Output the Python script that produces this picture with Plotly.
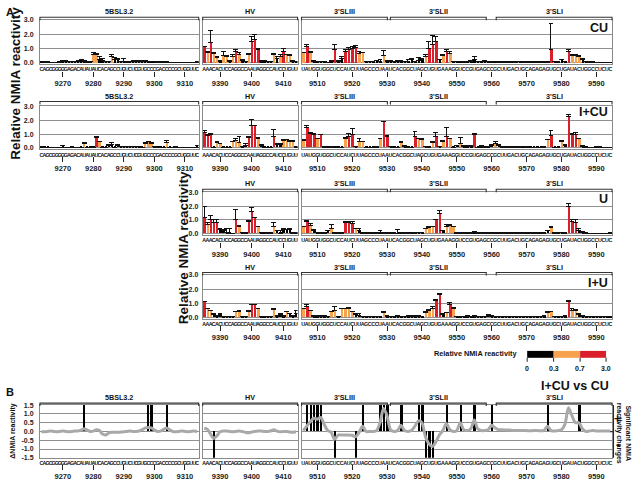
import plotly.graph_objects as go

W, H = 640, 483
FONT = "Liberation Sans, Arial, sans-serif"
NARROW = "Liberation Sans Narrow, Liberation Sans, Arial, sans-serif"

# ---------------- sequences / positions ----------------
seq_5bsl = "CAGCGGGGGAGACAUAUAUCACAGCCUGUCUCGUGCCCGACCCCGCUGGUUC"
seq_hv = "AAACACUCCAGGCCAAUAGGCCAUCCUGUU"
seq_3p = "UAUGGUGGCUCCAUCUUAGCCCUAAUCACGGCUAGCUGUGAAAGGUCCGUGAGCCGCUUGACUGCAGAGAGUGCUGAUACUGGCCUCUC"
start_5bsl, start_hv, start_3p = 9263, 9385, 9506
ticks_5bsl = [9270, 9280, 9290, 9300, 9310]
ticks_hv = [9390, 9400, 9410]
ticks_3p = [9510, 9520, 9530, 9540, 9550, 9560, 9570, 9580, 9590]

# ---------------- CU ----------------
cu_5bsl = [0.05, 0.04, 0.03, 0.02, 0.02, 0.02, 0.03, 0.08, 0.08, 0.06,
           0.05, 0.06, 0.08, 0.12, 0.08, 0.03, 0.05, 0.60, 0.55, 0.25,
           0.15, 0.05, 0.05, 0.45, 0.25, 0.20, 0.05, 0.05, 0.04, 0.05,
           0.08, 0.10, 0.10, 0.08, 0.08, 0.06, 0.05, 0.05, 0.04, 0.04,
           0.03, 0.03, 0.02, 0.02, 0.02, 0.02, 0.02, 0.02, 0.02, 0.02,
           0.02, 0.03]
cu_5bsl_hi = [0.08, 0.06, 0.05, 0.03, 0.03, 0.03, 0.05, 0.12, 0.12, 0.10,
              0.08, 0.10, 0.14, 0.20, 0.12, 0.05, 0.08, 0.72, 0.62, 0.40,
              0.30, 0.08, 0.08, 0.55, 0.35, 0.28, 0.10, 0.28, 0.08, 0.10,
              0.12, 0.14, 0.14, 0.12, 0.12, 0.10, 0.08, 0.08, 0.06, 0.06,
              0.05, 0.05, 0.04, 0.03, 0.03, 0.03, 0.03, 0.03, 0.03, 0.03,
              0.03, 0.05]
cu_hv = [1.10, 0.68, 1.40, 0.65, 0.35, 0.10, 0.50, 0.40, 0.10, 0.45,
         0.75, 0.55, 0.15, 0.05, 0.60, 1.50, 1.60, 0.90, 0.10, 0.10,
         0.08, 0.05, 0.60, 0.28, 0.45, 0.75, 0.55, 0.50, 0.10, 0.05]
cu_hv_hi = [1.15, 0.75, 2.25, 0.70, 0.40, 0.12, 0.75, 0.50, 0.12, 0.55,
            0.90, 0.70, 0.20, 0.08, 0.65, 1.80, 2.00, 1.00, 0.12, 0.12,
            0.10, 0.08, 0.62, 0.40, 0.60, 1.00, 0.60, 0.60, 0.12, 0.08]
cu_3p = [0.68, 1.10, 0.68, 0.10, 0.05, 0.05, 0.05, 0.02, 0.10, 0.90,
         0.10, 0.28, 0.80, 0.95, 1.00, 1.05, 0.65, 0.68, 0.05, 0.05,
         0.05, 0.15, 0.10, 0.50, 0.10, 0.08, 0.05, 0.10, 0.10, 0.05,
         0.10, 0.20, 0.05, 0.15, 0.25, 0.45, 1.00, 1.30, 1.45, 0.20,
         0.50, 0.80, 0.65, 0.05, 0.05, 0.05, 0.04, 0.05, 0.10, 0.20,
         0.05, 0.05, 0.08, 0.05, 0.04, 0.05, 0.04, 0.03, 0.03, 0.03,
         0.03, 0.04, 0.05, 0.04, 0.03, 0.03, 0.04, 0.03, 0.03, 0.03,
         0.03, 0.95, 0.05, 0.04, 0.20, 0.05, 0.80, 0.50, 0.50, 0.45,
         0.20, 0.05, 0.03, 0.03, 0.02, 0.02, 0.02, 0.02, 0.02]
cu_3p_hi = [0.70, 1.25, 0.75, 0.12, 0.10, 0.08, 0.08, 0.04, 0.15, 1.30,
            0.12, 0.40, 0.95, 1.05, 1.15, 1.20, 0.80, 0.70, 0.08, 0.08,
            0.08, 0.18, 0.20, 0.85, 0.12, 0.12, 0.10, 0.15, 0.15, 0.10,
            0.20, 0.30, 0.08, 0.35, 0.30, 0.60, 1.45, 1.90, 1.85, 0.25,
            0.55, 0.95, 0.75, 0.08, 0.08, 0.08, 0.06, 0.08, 0.15, 0.45,
            0.08, 0.08, 0.12, 0.08, 0.06, 0.08, 0.06, 0.05, 0.05, 0.05,
            0.05, 0.06, 0.08, 0.06, 0.05, 0.05, 0.06, 0.05, 0.05, 0.05,
            0.05, 2.75, 0.08, 0.06, 0.25, 0.08, 0.95, 0.55, 0.55, 0.50,
            0.30, 0.08, 0.05, 0.05, 0.03, 0.03, 0.03, 0.03, 0.03]

# ---------------- I+CU ----------------
icu_5bsl = [0.10, 0.05, 0.04, 0.03, 0.03, 0.03, 0.03, 0.05, 0.03, 0.03,
            0.05, 0.03, 0.03, 0.05, 0.32, 0.05, 0.05, 0.05, 0.75, 0.45,
            0.05, 0.05, 0.20, 0.25, 0.05, 0.15, 0.10, 0.10, 0.10, 0.10,
            0.10, 0.10, 0.10, 0.05, 0.35, 0.45, 0.35, 0.10, 0.05, 0.05,
            0.05, 0.40, 0.05, 0.03, 0.05, 0.02, 0.02, 0.02, 0.02, 0.02,
            0.02, 0.05]
icu_5bsl_hi = [0.12, 0.07, 0.06, 0.05, 0.05, 0.05, 0.05, 0.19, 0.05, 0.05,
               0.10, 0.05, 0.05, 0.07, 0.38, 0.07, 0.07, 0.07, 0.82, 0.47,
               0.07, 0.07, 0.22, 0.42, 0.07, 0.25, 0.12, 0.12, 0.12, 0.12,
               0.12, 0.12, 0.12, 0.07, 0.40, 0.47, 0.37, 0.12, 0.07, 0.07,
               0.07, 0.52, 0.07, 0.05, 0.10, 0.03, 0.03, 0.03, 0.03, 0.03,
               0.03, 0.15]
icu_hv = [1.10, 0.90, 0.95, 0.05, 0.40, 0.32, 0.05, 0.05, 0.05, 0.45,
          0.55, 0.40, 0.10, 0.20, 0.75, 1.60, 1.60, 0.68, 0.20, 0.05,
          0.05, 0.05, 0.80, 0.28, 0.28, 0.55, 0.60, 0.50, 0.50, 0.05]
icu_hv_hi = [1.30, 1.00, 1.05, 0.07, 0.45, 0.34, 0.07, 0.07, 0.07, 0.50,
             0.65, 0.80, 0.12, 0.35, 0.85, 2.05, 1.62, 0.75, 0.22, 0.07,
             0.07, 0.07, 1.35, 0.33, 0.33, 0.60, 0.62, 0.55, 0.52, 0.08]
icu_3p = [0.55, 1.45, 1.05, 1.00, 0.65, 0.95, 0.05, 0.05, 0.05, 0.10,
          0.05, 0.05, 0.65, 0.80, 1.00, 0.10, 0.50, 0.45, 0.05, 0.05,
          0.05, 0.05, 0.65, 1.90, 0.85, 0.10, 0.05, 0.05, 0.40, 0.10,
          0.05, 0.05, 0.80, 0.65, 0.60, 0.10, 0.05, 0.40, 0.80, 0.10,
          0.50, 0.80, 0.65, 0.05, 0.15, 0.35, 0.10, 0.10, 0.10, 1.00,
          0.05, 0.10, 0.05, 0.10, 0.20, 0.35, 0.20, 0.05, 0.05, 0.05,
          0.05, 0.05, 0.05, 0.08, 0.05, 0.05, 0.05, 0.05, 0.05, 0.05,
          0.60, 0.90, 0.05, 0.05, 0.50, 0.20, 2.30, 1.00, 0.95, 0.65,
          0.10, 0.05, 0.03, 0.03, 0.05, 0.05, 0.03, 0.03, 0.03]
icu_3p_hi = [0.60, 1.60, 1.10, 1.02, 0.72, 1.00, 0.10, 0.07, 0.10, 0.12,
             0.07, 0.07, 0.75, 1.05, 1.40, 0.12, 0.70, 0.50, 0.07, 0.07,
             0.07, 0.10, 0.70, 1.95, 0.87, 0.12, 0.07, 0.07, 0.45, 0.20,
             0.07, 0.07, 1.20, 0.67, 0.65, 0.12, 0.07, 0.50, 1.15, 0.12,
             0.52, 1.50, 0.70, 0.07, 0.20, 0.75, 0.15, 0.15, 0.15, 1.05,
             0.07, 0.20, 0.07, 0.12, 0.25, 0.50, 0.22, 0.10, 0.08, 0.10,
             0.08, 0.08, 0.10, 0.10, 0.08, 0.07, 0.07, 0.07, 0.07, 0.10,
             0.62, 1.30, 0.07, 0.07, 0.55, 0.22, 2.40, 1.05, 1.10, 0.70,
             0.20, 0.07, 0.05, 0.05, 0.08, 0.08, 0.05, 0.05, 0.05]

# ---------------- U ----------------
u_hv = [1.20, 0.65, 1.00, 0.80, 0.80, 0.28, 0.25, 0.10, 0.05, 0.02,
        1.00, 0.50, 0.10, 0.05, 0.90, 1.60, 1.15, 0.50, 0.10, 0.10,
        0.05, 0.05, 0.50, 0.20, 0.05, 0.28, 0.28, 0.28, 0.05, 0.05]
u_hv_hi = [2.00, 0.80, 1.30, 1.00, 1.05, 0.40, 0.30, 0.35, 0.35, 0.04,
           1.75, 0.60, 0.12, 0.07, 0.95, 1.90, 1.20, 0.55, 0.12, 0.12,
           0.07, 0.07, 0.80, 0.22, 0.20, 0.35, 0.30, 0.35, 0.07, 0.07]
u_3p = [0.50, 0.85, 0.60, 0.25, 0.10, 0.05, 0.05, 0.20, 0.40, 0.05,
        0.05, 0.05, 0.80, 0.80, 0.75, 0.35, 0.20, 0.05, 0.05, 0.05,
        0.05, 0.05, 0.10, 0.05, 0.05, 0.05, 0.05, 0.05, 0.05, 0.05,
        0.05, 0.05, 0.05, 0.10, 0.10, 0.35, 0.45, 0.50, 1.00, 1.45,
        0.20, 0.55, 0.60, 0.50, 0.05, 0.05, 0.05, 0.05, 0.05, 0.10,
        0.05, 0.05, 0.05, 0.05, 0.05, 0.05, 0.05, 0.05, 0.05, 0.05,
        0.05, 0.05, 0.05, 0.05, 0.05, 0.05, 0.05, 0.05, 0.05, 0.05,
        0.20, 0.45, 0.05, 0.05, 0.10, 0.05, 2.00, 0.90, 0.80, 0.25,
        0.10, 0.05, 0.03, 0.03, 0.03, 0.03, 0.03, 0.03, 0.05]
u_3p_hi = [0.55, 0.95, 0.75, 0.30, 0.12, 0.07, 0.07, 0.25, 0.65, 0.07,
           0.07, 0.07, 0.85, 0.85, 0.85, 0.40, 0.40, 0.07, 0.07, 0.07,
           0.07, 0.07, 0.25, 0.07, 0.07, 0.07, 0.07, 0.30, 0.07, 0.07,
           0.07, 0.07, 0.07, 0.12, 0.12, 0.37, 0.50, 0.55, 1.05, 1.70,
           0.22, 0.65, 0.70, 0.52, 0.07, 0.07, 0.07, 0.07, 0.07, 0.15,
           0.07, 0.07, 0.07, 0.08, 0.10, 0.08, 0.07, 0.07, 0.07, 0.07,
           0.07, 0.08, 0.07, 0.07, 0.07, 0.08, 0.07, 0.07, 0.07, 0.07,
           0.22, 0.55, 0.07, 0.07, 0.10, 0.07, 2.15, 1.00, 1.00, 0.40,
           0.15, 0.10, 0.05, 0.05, 0.05, 0.05, 0.05, 0.05, 0.10]

# ---------------- I+U ----------------
iu_hv = [1.10, 0.60, 0.50, 0.20, 0.10, 0.20, 0.05, 0.05, 0.05, 0.05,
         0.40, 0.40, 0.05, 0.05, 0.45, 0.90, 0.90, 0.60, 0.05, 0.05,
         0.05, 0.05, 0.55, 0.10, 0.20, 0.10, 0.40, 0.25, 0.10, 0.25]
iu_hv_hi = [1.15, 0.65, 0.52, 0.30, 0.12, 0.25, 0.07, 0.07, 0.07, 0.07,
            0.45, 0.50, 0.07, 0.07, 0.50, 0.95, 0.95, 0.65, 0.07, 0.07,
            0.07, 0.07, 0.60, 0.12, 0.25, 0.12, 0.45, 0.30, 0.12, 0.50]
iu_3p = [0.60, 0.80, 0.50, 0.10, 0.10, 0.10, 0.10, 0.05, 0.40, 0.50,
         0.05, 0.60, 0.60, 0.65, 0.40, 0.20, 0.15, 0.05, 0.05, 0.05,
         0.05, 0.05, 0.05, 0.35, 0.10, 0.05, 0.05, 0.10, 0.05, 0.05,
         0.10, 0.10, 0.10, 0.10, 0.05, 0.35, 0.50, 0.60, 1.20, 1.60,
         0.20, 0.35, 0.90, 0.65, 0.05, 0.05, 0.05, 0.10, 0.05, 0.10,
         0.05, 0.05, 0.05, 0.15, 0.10, 0.05, 0.05, 0.05, 0.05, 0.05,
         0.05, 0.05, 0.05, 0.05, 0.05, 0.05, 0.05, 0.05, 0.05, 0.10,
         0.35, 0.40, 0.05, 0.05, 0.05, 0.10, 1.10, 0.50, 0.50, 0.20,
         0.10, 0.05, 0.05, 0.05, 0.05, 0.05, 0.05, 0.05, 0.05]
iu_3p_hi = [0.65, 0.90, 0.52, 0.12, 0.15, 0.15, 0.15, 0.07, 0.45, 0.80,
            0.07, 0.65, 0.65, 0.70, 0.45, 0.30, 0.25, 0.07, 0.07, 0.07,
            0.07, 0.07, 0.07, 0.45, 0.12, 0.07, 0.07, 0.12, 0.07, 0.07,
            0.15, 0.15, 0.15, 0.15, 0.07, 0.40, 0.55, 0.80, 1.30, 1.70,
            0.25, 0.37, 1.05, 0.70, 0.07, 0.07, 0.07, 0.12, 0.07, 0.15,
            0.07, 0.07, 0.07, 0.20, 0.12, 0.07, 0.07, 0.07, 0.07, 0.07,
            0.07, 0.07, 0.07, 0.07, 0.07, 0.07, 0.07, 0.07, 0.07, 0.12,
            0.45, 0.45, 0.07, 0.07, 0.07, 0.15, 1.20, 0.65, 0.55, 0.25,
            0.12, 0.07, 0.07, 0.07, 0.07, 0.07, 0.07, 0.07, 0.10]

# ---------------- B: I+CU vs CU ----------------
delta_5bsl = [0.00, -0.02, 0.00, 0.02, 0.00, -0.02, 0.00, 0.02, 0.00, -0.02,
              0.00, 0.02, 0.03, 0.08, 0.15, 0.08, 0.00, 0.02, 0.10, 0.05,
              -0.15, -0.20, -0.10, -0.05, -0.05, -0.05, -0.03, -0.02, 0.00, 0.02,
              0.00, 0.00, 0.03, 0.10, 0.20, 0.22, 0.20, 0.08, 0.00, 0.02,
              0.12, 0.20, 0.10, 0.00, -0.02, 0.00, 0.02, 0.00, -0.02, 0.00,
              0.02, 0.00]
delta_hv = [0.18, 0.12, -0.15, -0.40, -0.25, -0.02, 0.03, 0.02, 0.00, -0.02,
            0.00, 0.02, 0.00, -0.05, -0.08, -0.03, 0.00, 0.02, 0.03, 0.00,
            0.00, 0.03, 0.10, 0.02, -0.02, 0.00, 0.00, -0.03, -0.05, -0.02]
delta_3p = [0.05, 0.30, 0.55, 0.75, 0.70, 0.80, 0.40, 0.05, -0.05, -0.45,
            -0.20, -0.20, -0.20, -0.20, -0.22, -0.30, -0.05, 0.30, 0.00, 0.00,
            0.00, 0.05, 0.50, 1.30, 0.90, 0.10, 0.00, 0.05, 0.35, 0.05,
            0.00, 0.05, 0.30, 0.60, 0.50, -0.30, -0.70, -0.85, -0.60, -0.20,
            0.05, 0.45, 0.10, 0.00, 0.05, 0.50, 0.10, 0.05, 0.15, 0.65,
            0.15, 0.05, 0.05, 0.10, 0.35, 0.20, 0.10, 0.10, 0.08, 0.08,
            0.06, 0.05, 0.05, 0.06, 0.05, 0.04, 0.05, 0.05, 0.04, 0.06,
            0.30, 0.05, 0.02, 0.05, 0.10, 0.40, 1.35, 0.90, 0.50, 0.50,
            0.15, 0.00, 0.03, 0.05, 0.03, 0.02, 0.03, 0.02, 0.02]
sig_up_5bsl = [9277, 9298, 9299, 9304]
sig_down_5bsl = []
sig_up_hv = []
sig_down_hv = [9388]
sig_up_3p = [9507, 9508, 9509, 9510, 9511, 9523, 9528, 9529, 9530, 9534,
             9539, 9540, 9547, 9551, 9555, 9560, 9576, 9585]
sig_down_3p = [9515, 9521, 9541, 9542, 9543]
SIG_LEVEL = 1.5

legend_edges = [0, 0.3, 0.7, 3.0]

# ---------------- styling ----------------
BLACK, ORANGE, RED = "#000000", "#F7A24F", "#DA1F2B"
FRAME = "#8a8a8a"
GRID = "#909090"

def color_for(v):
    if v < legend_edges[1]:
        return BLACK
    if v < legend_edges[2]:
        return ORANGE
    return RED

def xp(px):
    return px / W

def yp(py):
    return 1 - py / H

fig = go.Figure()
layout = {}
shapes = []
annotations = []
counter = [0]

def new_id():
    counter[0] += 1
    return counter[0]

def axref(k, letter):
    return letter if k == 1 else f"{letter}{k}"

def base_axes(i, x0, x1, ytop, ybot, start, n, seq, yr, ytv, yttext, show_y, standoff):
    layout[f"xaxis{i}"] = dict(
        domain=[xp(x0), xp(x1)], anchor=axref(i, "y"),
        range=[start - 0.5, start + n - 0.5],
        tickmode="array", tickvals=[start + k for k in range(n)],
        ticktext=[seq[k] if k < len(seq) else "" for k in range(n)],
        tickangle=0, ticks="",
        tickfont=dict(family=NARROW, size=5.3, color="#111", weight="bold"),
        showline=True, mirror=True, linecolor=FRAME, linewidth=1,
        showgrid=False, zeroline=False, fixedrange=True,
    )
    layout[f"yaxis{i}"] = dict(
        domain=[yp(ybot), yp(ytop)], anchor=axref(i, "x"), range=yr,
        tickmode="array", tickvals=ytv, ticktext=yttext,
        showticklabels=show_y, ticks="", ticklabelstandoff=standoff,
        tickfont=dict(family=FONT, size=7, color="#222", weight="bold"),
        showgrid=True, gridcolor=GRID, gridwidth=1, zeroline=False,
        showline=True, mirror=True, linecolor=FRAME, linewidth=1, fixedrange=True,
    )

def number_axis(i, start, n, ticks, num_pos):
    j = new_id()
    layout[f"xaxis{j}"] = dict(
        overlaying=axref(i, "x"), anchor="free", position=yp(num_pos), side="bottom",
        range=[start - 0.5, start + n - 0.5], tickmode="array", tickvals=ticks,
        ticktext=[str(t) for t in ticks], ticks="outside", ticklen=5, tickwidth=1,
        tickcolor="#222", showline=False, showgrid=False, zeroline=False,
        tickfont=dict(family=FONT, size=7.5, color="#222", weight="bold"), fixedrange=True,
    )
    fig.add_trace(go.Scatter(x=ticks, y=[None] * len(ticks), mode="markers",
                             xaxis=axref(j, "x"), yaxis=axref(i, "y"),
                             showlegend=False, hoverinfo="skip"))

def bar_panel(x0, x1, ytop, ybot, start, vals, hi, seq, ticks, num_pos, show_y, standoff=4):
    i = new_id()
    n = len(vals)
    nts = [start + k for k in range(n)]
    err = [max(h - v, 0) for v, h in zip(vals, hi)]
    fig.add_trace(go.Bar(
        x=nts, y=vals, width=0.74,
        marker=dict(color=[color_for(v) for v in vals], line=dict(width=0)),
        error_y=dict(type="data", symmetric=False, array=err, arrayminus=[0] * n,
                     color="#111", thickness=1, width=2.4),
        xaxis=axref(i, "x"), yaxis=axref(i, "y"), showlegend=False,
    ))
    base_axes(i, x0, x1, ytop, ybot, start, n, seq, [-0.1, 3.0], [0, 1, 2, 3],
              ["0.0", "1.0", "2.0", "3.0"], show_y, standoff)
    number_axis(i, start, n, ticks, num_pos)

def delta_panel(x0, x1, ytop, ybot, start, delta, up, down, seq, ticks, num_pos, show_y):
    i = new_id()
    n = len(delta)
    nts = [start + k for k in range(n)]
    sx = up + down
    sy = [SIG_LEVEL] * len(up) + [-SIG_LEVEL] * len(down)
    if sx:
        fig.add_trace(go.Bar(x=sx, y=sy, width=0.7, marker=dict(color="#000", line=dict(width=0)),
                             xaxis=axref(i, "x"), yaxis=axref(i, "y"), showlegend=False))
    fig.add_trace(go.Scatter(x=nts, y=delta, mode="lines",
                             line=dict(color="#a9a9a9", width=3, shape="spline", smoothing=0.8),
                             xaxis=axref(i, "x"), yaxis=axref(i, "y"), showlegend=False))
    base_axes(i, x0, x1, ytop, ybot, start, n, seq, [-1.5, 1.5],
              [-1.5, -1.0, -0.5, 0, 0.5, 1.0, 1.5],
              ["-1.5", "-1.0", "-0.5", "0.0", "0.5", "1.0", "1.5"], show_y, 4)
    number_axis(i, start, n, ticks, num_pos)

C5 = (40, 199)
CH = (203, 298)
C3 = (302, 613)

# rows: (top px, bottom px, number axis px)
R1 = (16, 61, 68)
R2 = (104, 147.5, 154)
R3 = (191, 234.5, 241)
R4 = (275, 319.5, 326)
RB = (407, 460.5, 467)

bar_panel(*C5, R1[0], R1[1], start_5bsl, cu_5bsl, cu_5bsl_hi, seq_5bsl, ticks_5bsl, R1[2], True)
bar_panel(*CH, R1[0], R1[1], start_hv, cu_hv, cu_hv_hi, seq_hv, ticks_hv, R1[2], False)
bar_panel(*C3, R1[0], R1[1], start_3p, cu_3p, cu_3p_hi, seq_3p, ticks_3p, R1[2], False)

bar_panel(*C5, R2[0], R2[1], start_5bsl, icu_5bsl, icu_5bsl_hi, seq_5bsl, ticks_5bsl, R2[2], True)
bar_panel(*CH, R2[0], R2[1], start_hv, icu_hv, icu_hv_hi, seq_hv, ticks_hv, R2[2], False)
bar_panel(*C3, R2[0], R2[1], start_3p, icu_3p, icu_3p_hi, seq_3p, ticks_3p, R2[2], False)

bar_panel(*CH, R3[0], R3[1], start_hv, u_hv, u_hv_hi, seq_hv, ticks_hv, R3[2], True, 2)
bar_panel(*C3, R3[0], R3[1], start_3p, u_3p, u_3p_hi, seq_3p, ticks_3p, R3[2], False)

bar_panel(*CH, R4[0], R4[1], start_hv, iu_hv, iu_hv_hi, seq_hv, ticks_hv, R4[2], True, 2)
bar_panel(*C3, R4[0], R4[1], start_3p, iu_3p, iu_3p_hi, seq_3p, ticks_3p, R4[2], False)

delta_panel(*C5, RB[0], RB[1], start_5bsl, delta_5bsl, sig_up_5bsl, sig_down_5bsl, seq_5bsl, ticks_5bsl, RB[2], True)
delta_panel(*CH, RB[0], RB[1], start_hv, delta_hv, sig_up_hv, sig_down_hv, seq_hv, ticks_hv, RB[2], False)
delta_panel(*C3, RB[0], RB[1], start_3p, delta_3p, sig_up_3p, sig_down_3p, seq_3p, ticks_3p, RB[2], False)

# ---------------- brackets ----------------
def txt(x, y, s, size, bold=True, xanchor="center", angle=0, color="#111"):
    annotations.append(dict(x=xp(x), y=yp(y), xref="paper", yref="paper", text=s,
                            showarrow=False, xanchor=xanchor, yanchor="middle", textangle=angle,
                            font=dict(family=FONT, size=size, color=color,
                                      weight="bold" if bold else "normal")))

def bracket(x0, x1, y, label):
    path = (f"M {xp(x0)},{yp(y + 3)} L {xp(x0)},{yp(y)} "
            f"L {xp(x1)},{yp(y)} L {xp(x1)},{yp(y + 3)}")
    shapes.append(dict(type="path", path=path, xref="paper", yref="paper",
                       line=dict(color="#333", width=1.1)))
    txt((x0 + x1) / 2, y - 5.5, label, 7.2)

full = [(40, 199, "5BSL3.2"), (203, 298, "HV"), (302, 388, "3'SLIII"),
        (391, 487, "3'SLII"), (497, 613, "3'SLI")]
for yb in (13.5, 99, 405):
    for x0, x1, lab in full:
        bracket(x0, x1, yb, lab)
for yb in (188, 272.5):
    for x0, x1, lab in full[1:]:
        bracket(x0, x1, yb, lab)

# condition labels
txt(611, 24.5, "CU", 12.5, xanchor="right")
txt(611, 110, "I+CU", 12.5, xanchor="right")
txt(611, 198, "U", 12.5, xanchor="right")
txt(611, 283, "I+U", 12.5, xanchor="right")
txt(612, 388, "I+CU vs CU", 12.5, xanchor="right")

# panel letters, axis titles
txt(4, 8, "A", 11, xanchor="left")
txt(4, 394, "B", 11, xanchor="left")
txt(16, 80, "Relative NMIA reactivity", 13.5, angle=-90)
txt(184, 247, "Relative NMIA reactivity", 13.5, angle=-90)
txt(13, 433, "ΔNMIA reactivity", 7, angle=-90)

# right-hand label of panel B
txt(624, 435, "Significant NMIA<br>reactivity changes", 7, angle=90)
txt(618.5, 421, "+", 12)
txt(618.5, 447, "-", 12)
shapes.append(dict(type="line", xref="paper", yref="paper", x0=xp(614.5), x1=xp(614.5),
                   y0=yp(407), y1=yp(460.5), line=dict(color="#222", width=1)))
shapes.append(dict(type="line", xref="paper", yref="paper", x0=xp(611), x1=xp(614.5),
                   y0=yp(434), y1=yp(434), line=dict(color="#222", width=1)))

# ---------------- colour legend ----------------
txt(520, 355, "Relative NMIA reactivity", 7.3, xanchor="right")
leg_x = [528, 554.5, 581, 607]
leg_cols = [BLACK, ORANGE, RED]
for k in range(3):
    shapes.append(dict(type="rect", xref="paper", yref="paper",
                       x0=xp(leg_x[k]), x1=xp(leg_x[k + 1]), y0=yp(359), y1=yp(352),
                       fillcolor=leg_cols[k], line=dict(width=0)))
for k, e in enumerate(legend_edges):
    shapes.append(dict(type="line", xref="paper", yref="paper", x0=xp(leg_x[k]), x1=xp(leg_x[k]),
                       y0=yp(359), y1=yp(363), line=dict(color="#222", width=1)))
    txt(leg_x[k], 370, f"{e:g}" if e == 0 else f"{e:.1f}", 7)

layout.update(dict(
    width=W, height=H, margin=dict(l=0, r=0, t=0, b=0),
    paper_bgcolor="white", plot_bgcolor="white", showlegend=False,
    shapes=shapes, annotations=annotations, bargap=0,
    font=dict(family=FONT),
))
fig.update_layout(**layout)
fig.write_html("out.html", config={"displayModeBar": False},
               post_script="document.body.style.margin='0';document.body.style.overflow='hidden';")
